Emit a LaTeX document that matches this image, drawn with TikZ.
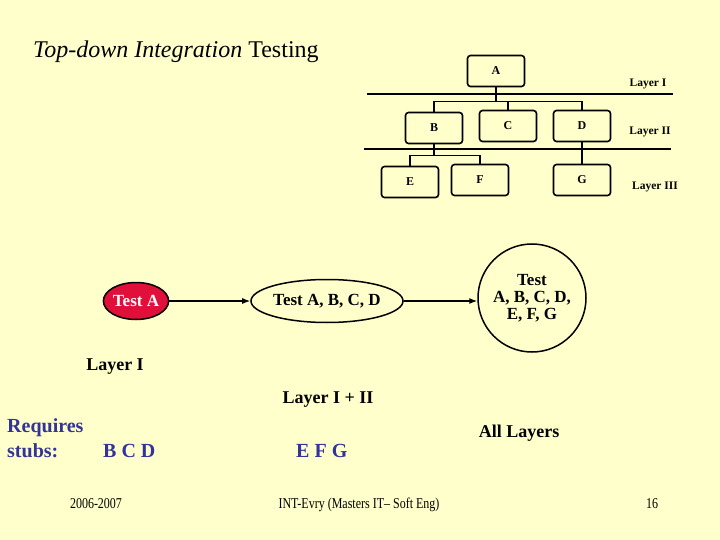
\documentclass[tikz,border=0pt]{standalone}
\usepackage{fontspec}
\setmainfont{Liberation Serif}
\usetikzlibrary{shapes.geometric,arrows.meta}
\definecolor{slidebg}{HTML}{FFFFCC}
\definecolor{testred}{HTML}{E0103A}
\definecolor{stubblue}{HTML}{333399}
\newcommand{\fsz}[1]{\fontsize{#1}{#1}\selectfont}
\tikzset{
  modbox/.style={draw,rounded corners=3pt,line width=1.6pt,minimum width=57,minimum height=31,
    inner sep=0pt,font=\bfseries\fsz{12}},
  treeline/.style={line width=1.5pt},
  layerlbl/.style={font=\bfseries\fsz{11.5}},
  testnode/.style={draw,line width=1.5pt,inner sep=0pt,align=center,font=\bfseries\fsz{17}},
  flow/.style={line width=1.3pt,-{Latex[length=8pt,width=6pt]}},
  stubtxt/.style={text=stubblue,font=\bfseries\fsz{20},anchor=base west,inner sep=0pt},
  foot/.style={font=\fsz{15},anchor=base,inner sep=0pt}
}
\begin{document}
\begin{tikzpicture}[x=1pt,y=-1pt]
\fill[slidebg] (0,0) rectangle (720,540);
\useasboundingbox (0,0) rectangle (720,540);
% title
\node[anchor=base west,inner sep=0pt,font=\fsz{24}] (title) at (33,58) {\textit{Top-down Integration} Testing};
% module tree
\node[modbox] (A) at (496,71) {A};
\node[modbox] (B) at (434,128) {B};
\node[modbox] (C) at (508,126) {C};
\node[modbox] (D) at (582,126) {D};
\node[modbox] (E) at (410,182) {E};
\node[modbox] (F) at (480,180) {F};
\node[modbox] (G) at (582,180) {G};
\draw[line width=1.8pt] (367,94) -- (673,94);
\draw[line width=1.8pt] (364,149) -- (671,149);
\draw[treeline] (A.south) -- ++(0,14) coordinate (splitA);
\draw[treeline] (splitA) -| (B.north);
\draw[treeline] (splitA) -| (D.north);
\draw[treeline] (C.north) -- (C.north |- splitA);
\draw[treeline] (B.south) -- ++(0,11) coordinate (splitB);
\draw[treeline] (splitB) -| (E.north);
\draw[treeline] (splitB) -| (F.north);
\draw[treeline] (D.south) -- (G.north);
\node[layerlbl] (lay1) at (648,84) {Layer I};
\node[layerlbl] (lay2) at (650,132) {Layer II};
\node[layerlbl] (lay3) at (655,187) {Layer III};
% test steps
\node[testnode,ellipse,fill=testred,text=white,minimum width=63,minimum height=37] (testa) at (136,301) {Test A};
\node[testnode,ellipse,minimum width=137,minimum height=43] (testabcd) at (327,301) {Test A, B, C, D};
\node[testnode,circle,minimum size=108] (testall) at (532,298) {Test\\A, B, C, D,\\E, F, G};
\draw[flow] (testa) -- (testabcd);
\draw[flow] (testabcd.east) -- (testall.west |- testabcd.east);
% layers tested
\node[font=\bfseries\fsz{18}] (l1) at (115,367) {Layer I};
\node[font=\bfseries\fsz{18}] (l12) at (328,400) {Layer I + II};
\node[font=\bfseries\fsz{18}] (lall) at (519,433) {All Layers};
% stubs
\node[stubtxt] (req) at (7,432) {Requires};
\node[stubtxt] (stubs) at (7,457) {stubs:};
\node[stubtxt] (bcd) at (103,457) {B C D};
\node[stubtxt] (efg) at (296,457) {E F G};
% footer
\node[foot] (year) at (96,508) {\scalebox{0.8}[1]{2006-2007}};
\node[foot] (inst) at (359,508) {\scalebox{0.8}[1]{INT-Evry (Masters IT– Soft Eng)}};
\node[foot] (page) at (652,508) {\scalebox{0.8}[1]{16}};
\end{tikzpicture}
\end{document}
